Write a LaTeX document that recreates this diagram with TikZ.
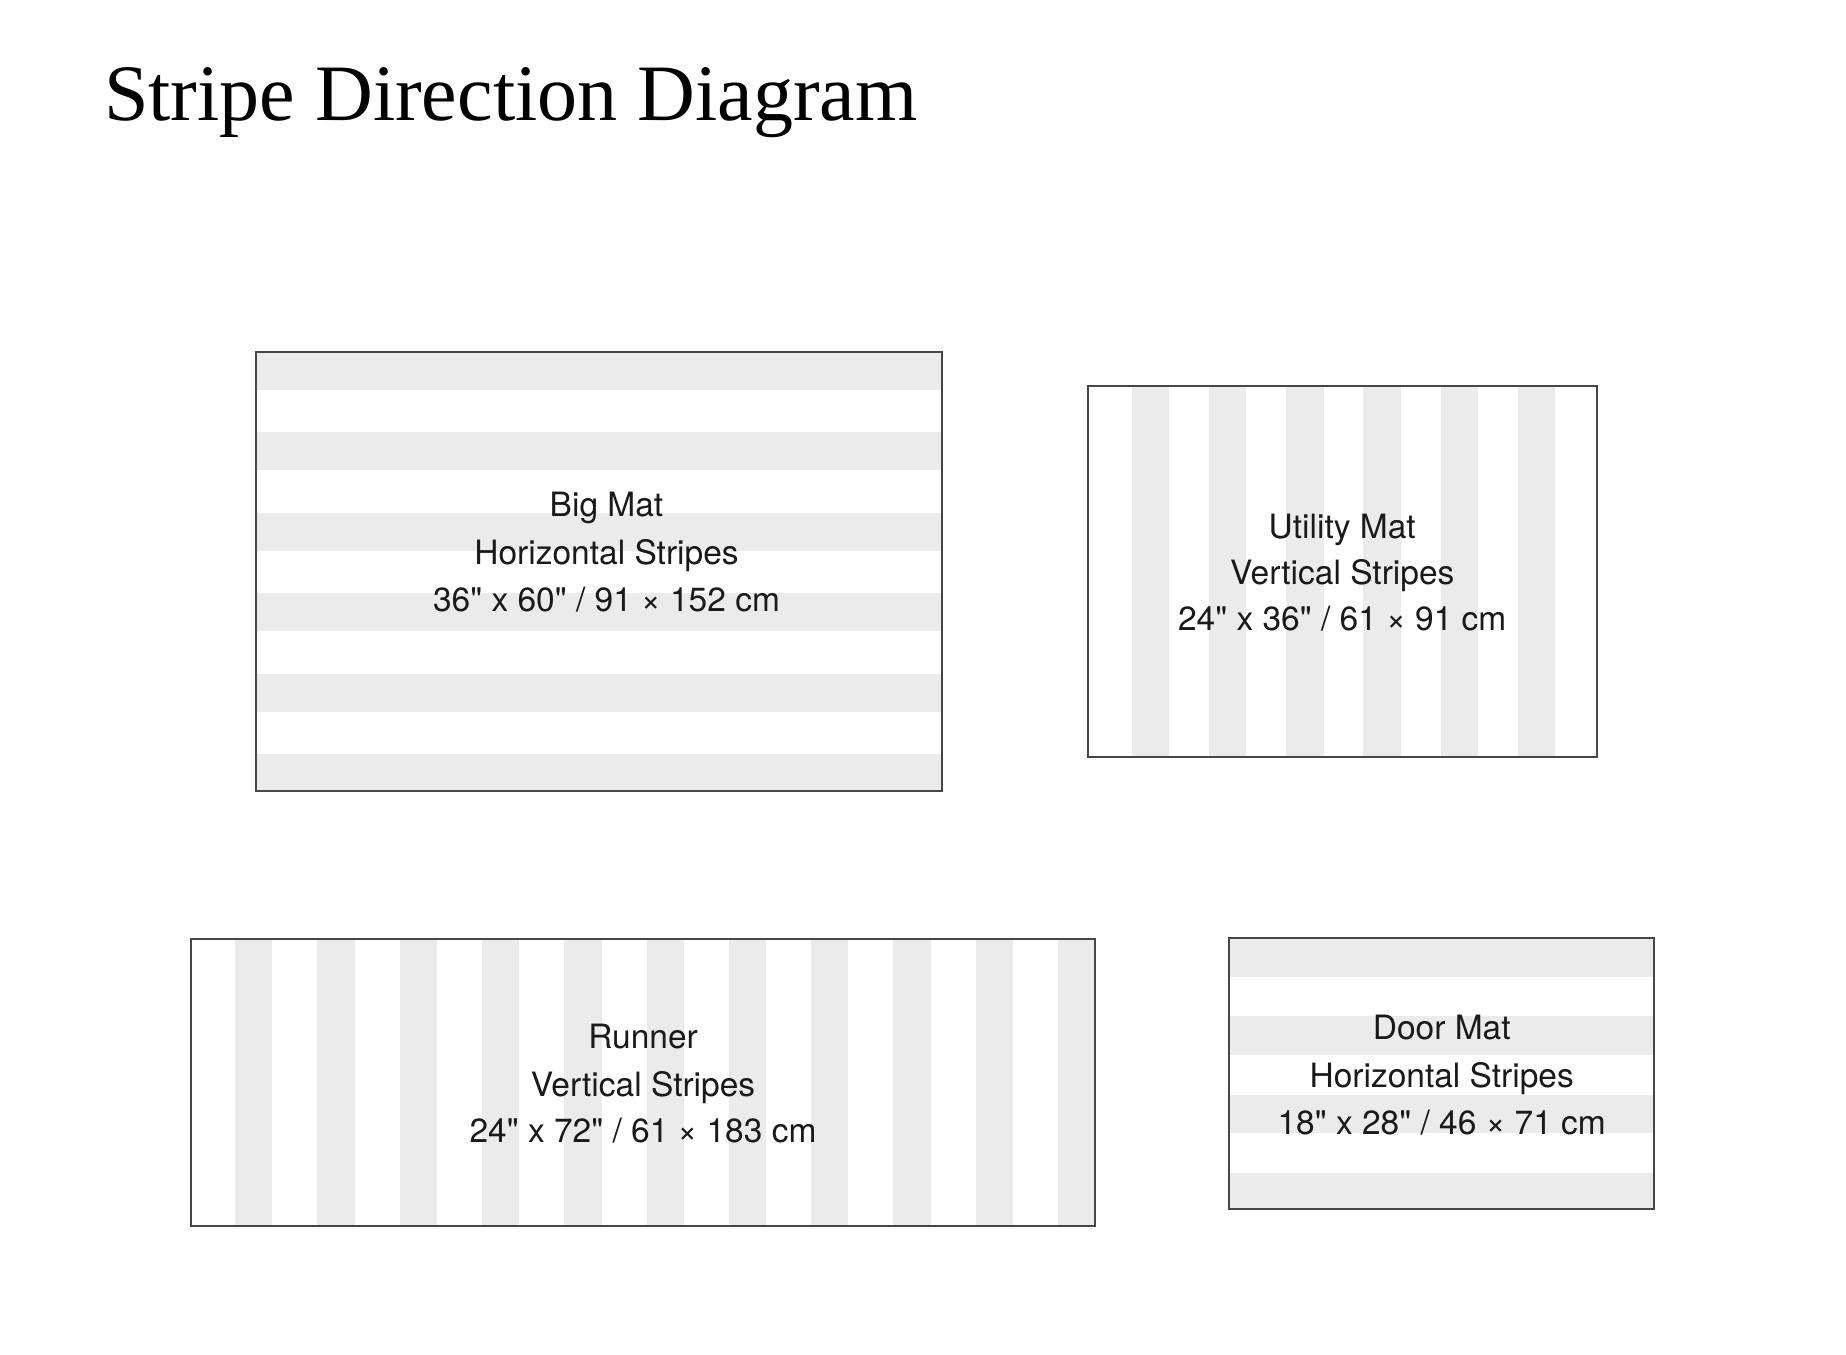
\documentclass[tikz,border=0pt]{standalone}
\usepackage{fontspec}
\setmainfont{Liberation Serif}
\newfontfamily\matfont{TeX Gyre Heros}
\definecolor{stripegray}{HTML}{EBEBEB}
\definecolor{framegray}{HTML}{474747}
\definecolor{textblack}{HTML}{1A1A1A}
\tikzset{
  matframe/.style={draw=framegray, line width=2pt, fill=none, inner sep=0pt, outer sep=0pt},
  matlabel/.style={anchor=base, inner sep=0pt, text=textblack, font=\matfont\fontsize{33.5}{40}\selectfont},
  titlelabel/.style={anchor=base west, inner sep=0pt, text=black, font=\fontsize{80}{90}\selectfont},
  stripefill/.style={fill=stripegray, draw=none}
}
\begin{document}
\begin{tikzpicture}[x=1pt,y=-1pt]
\useasboundingbox[fill=white] (0,0) rectangle (1846,1354);

% Title
\node[titlelabel] (title) at (104,120) {Stripe Direction Diagram};

% ---------- Big Mat (horizontal stripes) ----------
\begin{scope}
  \clip (255.5,352) rectangle (942,790.7);
  \foreach \i in {0,...,5} {
    \fill[stripefill] (255.5,352+\i*80.4) rectangle (942,352+\i*80.4+38);
  }
\end{scope}
\node[matframe, minimum width=686.5pt, minimum height=438.7pt] (bigmat) at (598.75,571.35) {};
\node[matlabel] (bigA) at (606.5,516.7) {Big Mat};
\node[matlabel] (bigB) at (606.5,564.3) {Horizontal Stripes};
\node[matlabel] (bigC) at (606.5,611.7) {36" x 60" / 91 × 152 cm};

% ---------- Utility Mat (vertical stripes) ----------
\foreach \i in {0,...,5} {
  \fill[stripefill] (1131.7+\i*77.2,386) rectangle (1131.7+\i*77.2+37.5,756.7);
}
\node[matframe, minimum width=509pt, minimum height=370.7pt] (utilmat) at (1342.2,571.35) {};
\node[matlabel] (utilA) at (1342.2,538.3) {Utility Mat};
\node[matlabel] (utilB) at (1342.2,584) {Vertical Stripes};
\node[matlabel] (utilC) at (1342.2,630.7) {24" x 36" / 61 × 91 cm};

% ---------- Runner (vertical stripes) ----------
\begin{scope}
  \clip (191,939.3) rectangle (1095,1225.7);
  \foreach \i in {0,...,10} {
    \fill[stripefill] (235+\i*82.3,939.3) rectangle (235+\i*82.3+37.3,1225.7);
  }
\end{scope}
\node[matframe, minimum width=904pt, minimum height=286.4pt] (runner) at (643,1082.5) {};
\node[matlabel] (runA) at (643,1048.5) {Runner};
\node[matlabel] (runB) at (643,1096) {Vertical Stripes};
\node[matlabel] (runC) at (643,1142.7) {24" x 72" / 61 × 183 cm};

% ---------- Door Mat (horizontal stripes) ----------
\begin{scope}
  \clip (1229.3,938.3) rectangle (1654,1209.3);
  \foreach \i in {0,...,3} {
    \fill[stripefill] (1229.3,938.3+\i*78.1) rectangle (1654,938.3+\i*78.1+38.5);
  }
\end{scope}
\node[matframe, minimum width=424.7pt, minimum height=271pt] (doormat) at (1441.65,1073.8) {};
\node[matlabel] (doorA) at (1441.7,1039.3) {Door Mat};
\node[matlabel] (doorB) at (1441.7,1087.7) {Horizontal Stripes};
\node[matlabel] (doorC) at (1441.7,1134.3) {18" x 28" / 46 × 71 cm};
\end{tikzpicture}
\end{document}
